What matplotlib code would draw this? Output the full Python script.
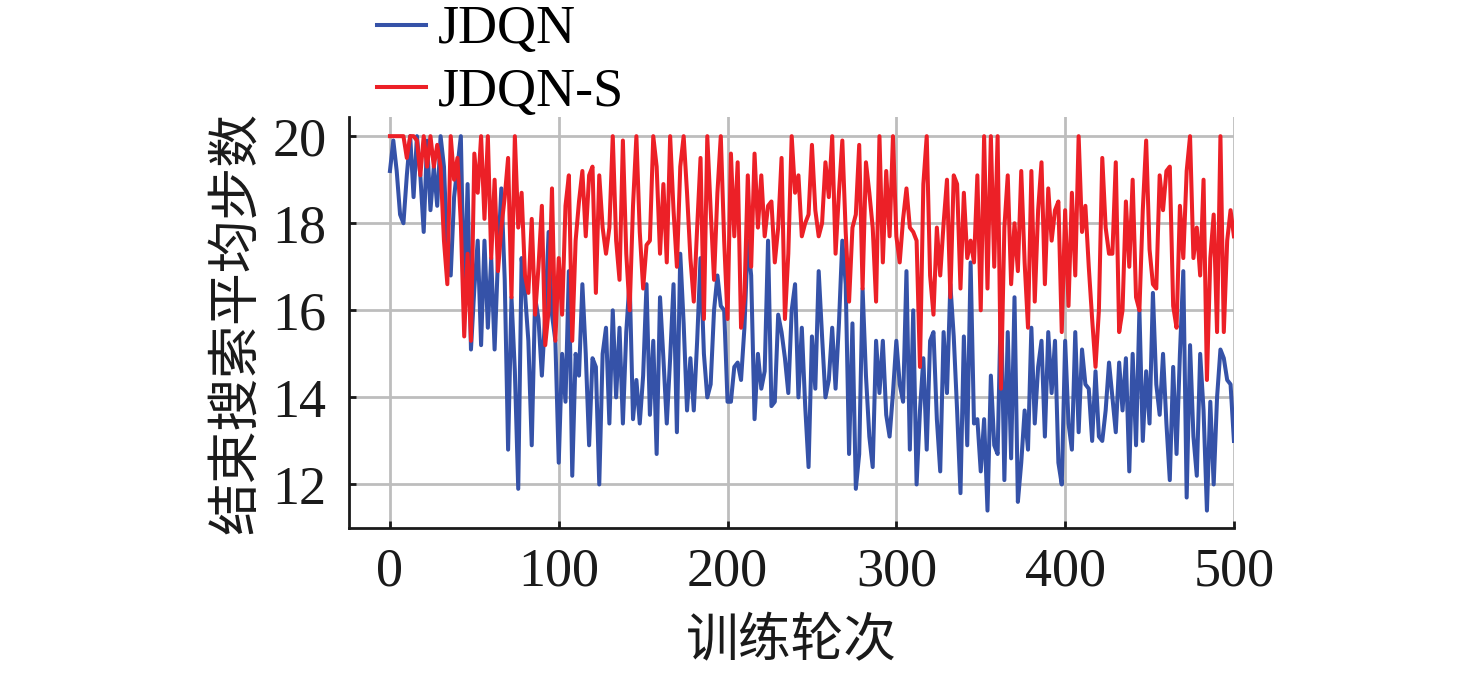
import matplotlib
matplotlib.use("Agg")
import matplotlib.pyplot as plt
import numpy as np

# episodes sampled every 2 training rounds
episodes = np.arange(0, 501, 2)

jdqn = [
    # 0 - 80
    19.2, 19.9, 19.2, 18.2, 18.0, 19.1, 20.0, 18.6, 20.0, 19.1, 17.8, 19.9, 18.3, 19.3,
    18.4, 20.0, 19.3, 17.3, 16.8, 18.6, 19.3, 20.0, 16.1, 18.9, 15.1, 16.5, 17.6, 15.2,
    17.6, 15.6, 17.2, 15.1, 17.2, 18.8, 16.7, 12.8, 16.3, 14.6, 11.9, 17.2, 16.4,
    # 82 - 164
    15.3, 12.9, 16.3, 15.8, 14.5, 15.9, 17.8, 15.9, 15.3, 12.5, 15.0, 13.9, 16.9, 12.2,
    15.0, 14.5, 16.6, 15.0, 12.9, 14.9, 14.7, 12.0, 15.0, 15.6, 13.4, 16.0, 14.0, 15.6,
    13.4, 15.5, 16.7, 13.5, 14.4, 13.4, 14.5, 16.6, 13.6, 15.3, 12.7, 16.3, 14.9, 13.4,
    # 166 - 248
    14.9, 16.6, 13.2, 17.3, 15.7, 13.7, 14.9, 13.7, 15.3, 17.2, 15.0, 14.0, 14.3, 16.0,
    16.8, 16.1, 16.0, 13.9, 13.9, 14.7, 14.8, 14.4, 15.6, 17.6, 16.8, 13.5, 15.0, 14.2,
    14.6, 17.6, 13.8, 13.9, 15.9, 15.5, 14.9, 14.1, 16.0, 16.6, 14.0, 15.6, 13.8, 12.4,
    # 250 - 332
    15.4, 14.2, 16.9, 15.4, 14.0, 14.4, 15.6, 14.2, 15.7, 17.6, 16.6, 12.7, 15.7, 11.9,
    12.7, 16.5, 14.5, 13.1, 12.4, 15.3, 14.1, 15.3, 13.6, 13.1, 14.1, 15.3, 14.3, 13.9,
    16.9, 12.8, 16.0, 12.0, 13.7, 14.9, 12.8, 15.3, 15.5, 13.5, 12.3, 15.5, 14.1, 16.6,
    # 334 - 416
    15.4, 13.7, 11.8, 15.4, 12.9, 17.1, 13.4, 13.5, 12.3, 13.5, 11.4, 14.5, 12.9, 12.7,
    16.3, 12.1, 15.5, 12.6, 16.3, 11.6, 12.5, 13.7, 12.8, 15.6, 13.4, 14.7, 15.3, 13.1,
    15.5, 14.1, 15.3, 12.5, 12.0, 15.3, 13.4, 12.8, 15.5, 13.2, 15.1, 14.3, 14.2, 13.0,
    # 418 - 500
    14.6, 13.1, 13.0, 13.7, 14.8, 14.0, 13.2, 14.8, 13.7, 14.9, 12.3, 15.0, 12.9, 16.0,
    13.0, 14.6, 13.4, 16.4, 14.3, 13.6, 15.0, 13.4, 12.1, 14.7, 12.7, 15.0, 16.9, 11.7,
    15.2, 13.1, 12.2, 15.0, 13.7, 11.4, 13.9, 12.0, 14.0, 15.1, 14.9, 14.4, 14.3, 13.0,
]

jdqn_s = [
    # 0 - 80
    20.0, 20.0, 20.0, 20.0, 20.0, 19.5, 20.0, 20.0, 19.9, 19.1, 20.0, 19.3, 20.0, 19.3,
    19.8, 19.3, 17.6, 16.6, 20.0, 19.0, 19.5, 18.0, 15.4, 17.3, 15.3, 19.6, 18.7, 20.0,
    18.1, 20.0, 17.2, 19.0, 16.9, 17.9, 18.6, 19.5, 16.3, 20.0, 17.9, 18.7, 16.8,
    # 82 - 164
    16.4, 18.1, 15.9, 17.0, 18.4, 15.2, 16.0, 18.8, 15.3, 17.2, 15.9, 18.4, 19.1, 15.3,
    17.6, 18.5, 19.2, 17.7, 19.1, 19.3, 16.4, 19.1, 17.9, 17.3, 17.9, 20.0, 17.6, 16.7,
    19.9, 17.3, 16.0, 18.4, 20.0, 17.8, 16.5, 17.5, 17.6, 20.0, 19.3, 17.3, 18.9, 17.1,
    # 166 - 248
    20.0, 18.3, 17.0, 19.3, 20.0, 18.7, 17.2, 16.2, 17.9, 19.5, 15.8, 20.0, 18.3, 16.7,
    18.7, 20.0, 17.6, 15.8, 19.6, 17.7, 19.4, 15.6, 16.3, 19.1, 17.0, 19.6, 17.9, 19.1,
    17.7, 18.4, 18.5, 17.1, 17.9, 19.5, 15.8, 17.3, 20.0, 18.7, 19.1, 17.7, 18.0, 18.2,
    # 250 - 332
    19.8, 18.3, 17.7, 18.0, 19.4, 18.6, 20.0, 17.3, 18.7, 19.9, 17.8, 16.2, 17.9, 18.2,
    19.8, 16.5, 19.4, 18.7, 17.9, 16.2, 20.0, 17.1, 19.2, 17.7, 20.0, 17.7, 17.1, 18.1,
    18.8, 17.9, 17.8, 17.6, 14.7, 18.9, 20.0, 16.8, 15.9, 17.9, 16.8, 18.0, 19.0, 16.3,
    # 334 - 416
    19.1, 18.9, 16.5, 18.7, 17.2, 17.6, 17.1, 19.1, 16.0, 20.0, 16.5, 20.0, 17.0, 20.0,
    14.2, 17.9, 19.1, 16.6, 18.0, 16.9, 19.2, 17.1, 15.6, 19.2, 16.2, 18.3, 19.4, 16.6,
    18.8, 17.6, 18.3, 18.5, 15.5, 18.3, 16.1, 18.7, 16.8, 20.0, 17.8, 18.4, 17.0, 15.8,
    # 418 - 500
    14.7, 16.0, 19.5, 17.9, 17.3, 17.3, 19.4, 15.5, 16.0, 18.5, 17.0, 19.0, 16.3, 16.0,
    18.3, 19.9, 17.4, 16.6, 16.5, 19.1, 18.3, 19.2, 19.3, 16.1, 15.6, 18.4, 17.2, 19.2,
    20.0, 17.2, 17.9, 16.8, 19.0, 14.4, 17.2, 18.2, 15.5, 20.0, 15.5, 17.6, 18.3, 17.7,
]

x_ticks = [0, 100, 200, 300, 400, 500]
y_ticks = [12, 14, 16, 18, 20]

plt.rcParams['font.family'] = ['Liberation Serif', 'Noto Sans CJK SC']
plt.rcParams['font.size'] = 39

fig = plt.figure(figsize=(14.76, 6.74), dpi=100)
ax = fig.add_axes([0.2364, 0.2166, 0.5996, 0.6098])

ax.plot(episodes, jdqn, color='#3552A8', lw=2.9, label='JDQN')
ax.plot(episodes, jdqn_s, color='#EC2027', lw=2.9, label='JDQN-S')

ax.set_xlim(-24.3, 500)
ax.set_ylim(11.0, 20.44)
ax.set_xticks(x_ticks)
ax.set_yticks(y_ticks)
ax.grid(True, color='#BDBDBD', lw=2.0)
ax.set_axisbelow(True)

for s in ['top', 'right']:
    ax.spines[s].set_visible(False)
for s in ['left', 'bottom']:
    ax.spines[s].set_linewidth(2.0)
    ax.spines[s].set_color('#1a1a1a')

ax.tick_params(axis='both', direction='in', length=5, width=2.0, color='#1a1a1a',
               labelcolor='#1a1a1a')
ax.tick_params(axis='x', pad=14)
ax.tick_params(axis='y', pad=16)

ax.set_xlabel('训练轮次', family=['Noto Sans CJK SC'], fontsize=38, labelpad=11,
              color='#1a1a1a')
ax.set_ylabel('结束搜索平均步数', family=['Noto Sans CJK SC'], fontsize=38, labelpad=7,
              color='#1a1a1a')

fig.legend(loc='upper left', bbox_to_anchor=(377 / 1476, 1 - 5 / 674), frameon=False,
           borderpad=0, borderaxespad=0, handlelength=0.9, handletextpad=0.22,
           labelspacing=0.22, fontsize=39, handleheight=0.7)

fig.savefig('out.png', dpi=100)
